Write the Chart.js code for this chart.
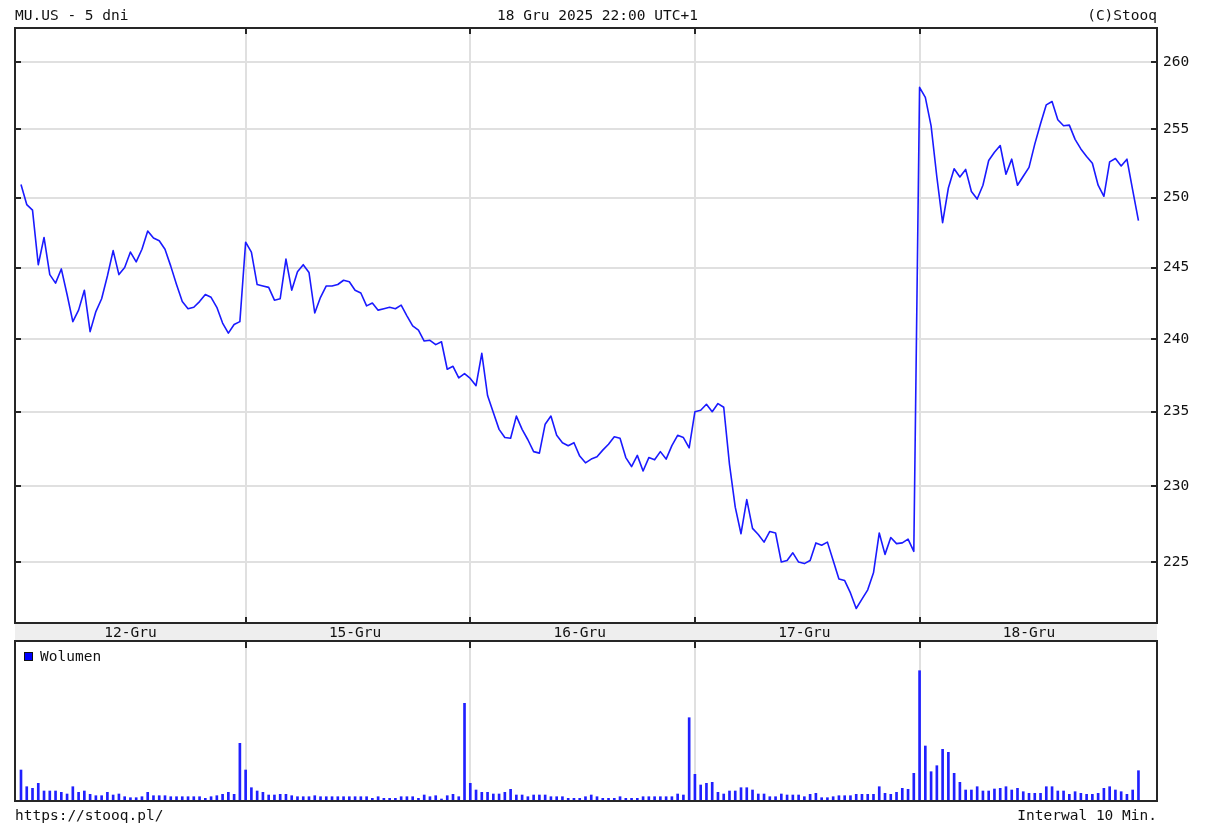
<!DOCTYPE html>
<html lang="pl">
<head>
<meta charset="utf-8">
<title>MU.US - 5 dni</title>
<script src="https://cdn.jsdelivr.net/npm/chart.js@4.4.0/dist/chart.umd.min.js"></script>
<style>
  body { margin: 0; background: #fff; }
  #wrap { position: relative; width: 1210px; height: 837px; font-family: 'DejaVu Sans Mono', monospace; font-size: 14.5px; color: #111; }
  .txt { position: absolute; white-space: pre; line-height: 16px; }
  canvas { position: absolute; left: 0; }
  #kwadrat { position: absolute; left: 24px; top: 652px; width: 7px; height: 7px; background: #0000ff; border: 1px solid #111; }
</style>
</head>
<body>
<div id="wrap">
  <canvas id="cena" width="1210" height="642" style="top:0"></canvas>
  <canvas id="wolumen" width="1210" height="197" style="top:640px"></canvas>
  <div class="txt" style="left:15px; top:7px">MU.US - 5 dni</div>
  <div class="txt" style="left:0; width:1195px; text-align:center; top:7px">18 Gru 2025 22:00 UTC+1</div>
  <div class="txt" style="right:53px; top:7px">(C)Stooq</div>
  <div id="kwadrat"></div>
  <div class="txt" style="left:40px; top:648px">Wolumen</div>
  <div class="txt" style="left:15px; top:807px">https://stooq.pl/</div>
  <div class="txt" style="right:53px; top:807px">Interwal 10 Min.</div>
</div>
<script>
// sesje (dni) i etykiety osi
const dni = ['12-Gru', '15-Gru', '16-Gru', '17-Gru', '18-Gru'];
const naSesje = 39; // swieczki 10-minutowe na sesje
const poziomyCeny = [225, 230, 235, 240, 245, 250, 255, 260];

// kurs zamkniecia co 10 min
const cena12 = [250.95, 249.5, 249.1, 245.2, 247.14, 244.5, 243.9, 244.9, 243.1, 241.2, 242.0, 243.4, 240.5, 241.9, 242.8, 244.4, 246.2, 244.5, 245.0, 246.1, 245.4, 246.3, 247.6, 247.1, 246.9, 246.3, 245.1, 243.8, 242.6, 242.1, 242.2, 242.6, 243.1, 242.9, 242.2, 241.1, 240.4, 241.0, 241.2];
const cena15 = [246.8, 246.1, 243.8, 243.7, 243.6, 242.7, 242.8, 245.6, 243.4, 244.7, 245.2, 244.65, 241.8, 242.9, 243.7, 243.7, 243.8, 244.1, 244.0, 243.4, 243.2, 242.3, 242.5, 242.0, 242.1, 242.2, 242.1, 242.35, 241.6, 240.9, 240.6, 239.85, 239.9, 239.6, 239.8, 237.9, 238.1, 237.3, 237.6];
const cena16 = [237.27, 236.77, 239.0, 236.1, 234.95, 233.8, 233.25, 233.2, 234.7, 233.8, 233.1, 232.3, 232.2, 234.15, 234.7, 233.4, 232.9, 232.7, 232.9, 232.0, 231.55, 231.8, 231.95, 232.4, 232.8, 233.3, 233.2, 231.9, 231.3, 232.05, 231.0, 231.9, 231.75, 232.3, 231.8, 232.7, 233.4, 233.25, 232.55];
const cena17 = [235.0, 235.1, 235.5, 235.0, 235.55, 235.3, 231.45, 228.6, 226.85, 229.1, 227.2, 226.8, 226.3, 227.0, 226.9, 225.0, 225.1, 225.6, 225.0, 224.9, 225.1, 226.25, 226.1, 226.3, 225.1, 223.9, 223.8, 223.0, 222.0, 222.6, 223.2, 224.3, 226.9, 225.5, 226.6, 226.2, 226.25, 226.5, 225.7];
const cena18 = [258.1, 257.35, 255.25, 251.5, 248.2, 250.7, 252.1, 251.5, 252.05, 250.45, 249.9, 250.9, 252.7, 253.3, 253.8, 251.7, 252.8, 250.9, 251.55, 252.2, 253.9, 255.4, 256.8, 257.05, 255.7, 255.25, 255.3, 254.25, 253.55, 253.0, 252.5, 250.9, 250.1, 252.6, 252.85, 252.3, 252.8, 250.55, 248.35];

// wolumen (tys. szt., odczyt przyblizony)
const wol12 = [310, 143, 127, 177, 100, 100, 100, 87, 70, 143, 87, 100, 67, 53, 53, 87, 60, 70, 43, 33, 33, 43, 87, 53, 53, 53, 43, 43, 43, 43, 43, 43, 27, 43, 53, 67, 87, 67, 577];
const wol15 = [310, 133, 100, 87, 60, 60, 67, 67, 53, 43, 43, 43, 53, 43, 43, 43, 43, 43, 43, 43, 43, 43, 27, 43, 27, 27, 27, 43, 43, 43, 27, 60, 43, 53, 20, 53, 67, 43, 977];
const wol16 = [177, 110, 87, 87, 70, 70, 87, 117, 60, 60, 43, 60, 60, 60, 43, 43, 43, 27, 27, 27, 43, 60, 43, 27, 27, 27, 43, 27, 27, 27, 43, 43, 43, 43, 43, 43, 70, 60, 833];
const wol17 = [267, 160, 177, 187, 87, 70, 100, 100, 133, 133, 110, 70, 70, 43, 43, 70, 60, 60, 60, 43, 67, 77, 33, 33, 43, 53, 53, 53, 67, 67, 67, 67, 143, 77, 67, 87, 127, 117, 277];
const wol18 = [1303, 550, 293, 353, 517, 487, 277, 187, 110, 110, 143, 100, 100, 120, 127, 143, 110, 127, 93, 77, 77, 77, 143, 143, 100, 100, 67, 93, 77, 67, 67, 77, 127, 143, 110, 93, 67, 110, 303];

const ceny = [cena12, cena15, cena16, cena17, cena18];
const wolumeny = [wol12, wol15, wol16, wol17, wol18];

// punkty na wspolnej osi (nr swieczki)
function naPunkty(serie) {
  const out = [];
  serie.forEach((dzien, d) => {
    dzien.forEach((v, i) => out.push({ x: d * naSesje + i, y: v }));
  });
  return out;
}

const granice = dni.slice(1).map((_, d) => (d + 1) * naSesje);
const xMin = -1.04;
const xMax = 197.22;
const czcionka = { family: 'DejaVu Sans Mono', size: 14.5 };
const kolorSiatki = '#e0e0e0';
const kolorRamki = '#262626';

function osX() {
  return {
    type: 'linear',
    min: xMin,
    max: xMax,
    offset: false,
    afterBuildTicks: (s) => { s.ticks = granice.map(v => ({ value: v })); },
    afterFit: (s) => { s.height = 0; },
    ticks: { display: false },
    border: { display: false },
    grid: { color: kolorSiatki, lineWidth: 2, drawTicks: false, offset: false }
  };
}

function kreska(ctx, x1, y1, x2, y2) {
  ctx.beginPath();
  ctx.moveTo(x1, y1);
  ctx.lineTo(x2, y2);
  ctx.stroke();
}

// wykres ceny
new Chart(document.getElementById('cena'), {
  type: 'line',
  data: {
    datasets: [{
      data: naPunkty(ceny),
      borderColor: '#1a1aff',
      borderWidth: 1.6,
      borderJoinStyle: 'round',
      pointRadius: 0,
      tension: 0
    }]
  },
  options: {
    responsive: false,
    animation: false,
    devicePixelRatio: 1,
    layout: { padding: { left: 15, top: 28, right: 0, bottom: 19 } },
    plugins: { legend: { display: false }, tooltip: { enabled: false } },
    scales: {
      x: osX(),
      y: {
        type: 'logarithmic',
        position: 'right',
        min: 221.07,
        max: 262.57,
        afterBuildTicks: (s) => { s.ticks = poziomyCeny.map(v => ({ value: v })); },
        afterFit: (s) => { s.width = 53; },
        ticks: { callback: (v) => String(v), font: czcionka, color: '#111', padding: 6 },
        border: { display: false },
        grid: { color: kolorSiatki, lineWidth: 2, drawTicks: false }
      }
    }
  },
  plugins: [{
    id: 'ramkaCeny',
    afterDraw(chart) {
      const { ctx, chartArea: a, scales } = chart;
      ctx.save();
      // pasek z datami
      ctx.fillStyle = '#eeeeee';
      ctx.fillRect(a.left, a.bottom, a.right - a.left, 18);
      ctx.fillStyle = '#111';
      ctx.font = '14.5px "DejaVu Sans Mono"';
      ctx.textAlign = 'center';
      ctx.textBaseline = 'middle';
      dni.forEach((t, d) => {
        ctx.fillText(t, scales.x.getPixelForValue(d * naSesje + 19), a.bottom + 10);
      });
      ctx.strokeStyle = kolorRamki;
      ctx.lineWidth = 2;
      ctx.strokeRect(a.left, a.top, a.right - a.left, a.bottom - a.top);
      kreska(ctx, a.left, a.bottom + 18, a.right, a.bottom + 18);
      poziomyCeny.forEach(v => {
        const y = Math.round(scales.y.getPixelForValue(v));
        kreska(ctx, a.left, y, a.left + 6, y);
        kreska(ctx, a.right - 6, y, a.right, y);
      });
      granice.forEach(v => {
        const x = Math.round(scales.x.getPixelForValue(v));
        kreska(ctx, x, a.top, x, a.top + 6);
        kreska(ctx, x, a.bottom - 6, x, a.bottom);
      });
      ctx.restore();
    }
  }]
});

// wykres wolumenu
new Chart(document.getElementById('wolumen'), {
  type: 'bar',
  data: {
    datasets: [{
      data: naPunkty(wolumeny),
      backgroundColor: '#2020ff',
      barThickness: 2,
      borderWidth: 0
    }]
  },
  options: {
    responsive: false,
    animation: false,
    devicePixelRatio: 1,
    layout: { padding: { left: 15, top: 1, right: 53, bottom: 36 } },
    plugins: { legend: { display: false }, tooltip: { enabled: false } },
    scales: {
      x: osX(),
      y: { display: false, min: 0, max: 1600 }
    }
  },
  plugins: [{
    id: 'ramkaWolumenu',
    afterDraw(chart) {
      const { ctx, chartArea: a, scales } = chart;
      ctx.save();
      ctx.strokeStyle = kolorRamki;
      ctx.lineWidth = 2;
      ctx.strokeRect(a.left, a.top, a.right - a.left, a.bottom - a.top);
      granice.forEach(v => {
        const x = Math.round(scales.x.getPixelForValue(v));
        kreska(ctx, x, a.top, x, a.top + 7);
      });
      ctx.restore();
    }
  }]
});
</script>
</body>
</html>
